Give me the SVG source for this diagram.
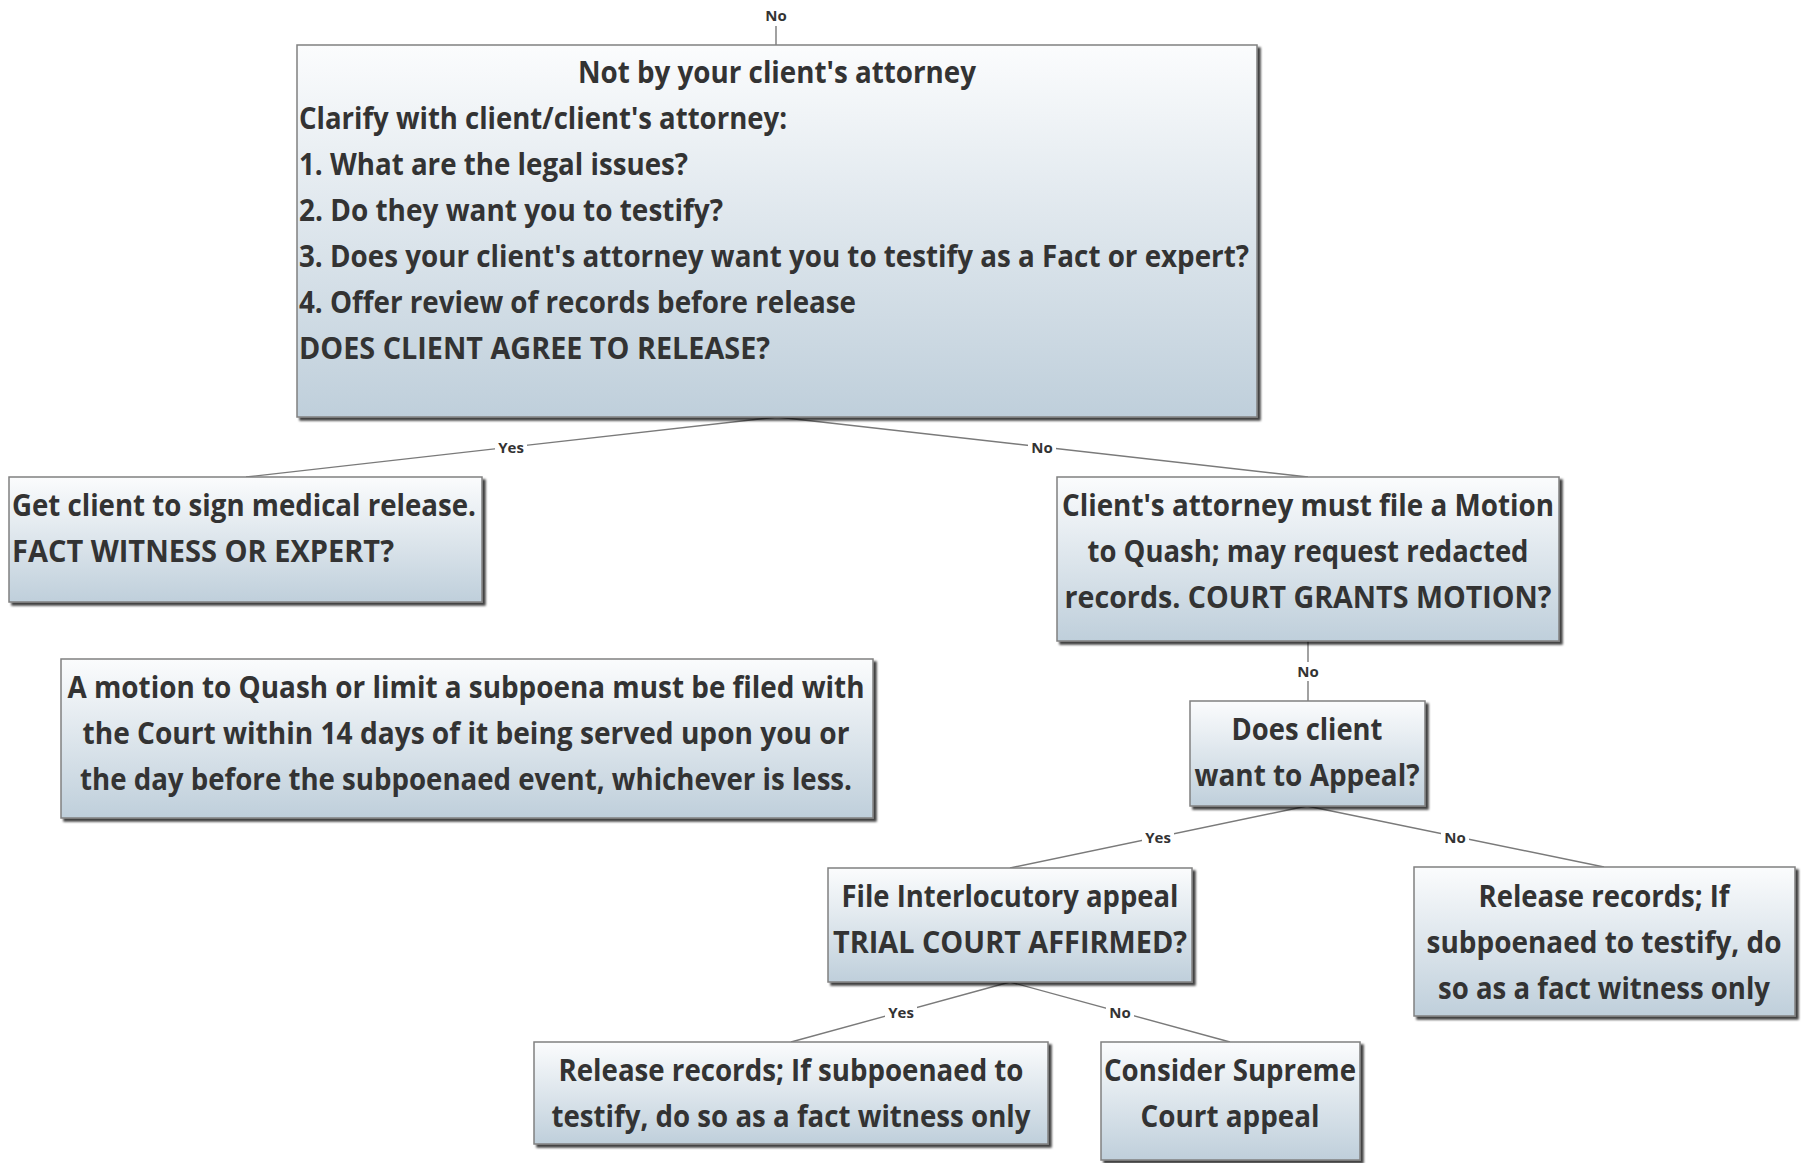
<svg xmlns="http://www.w3.org/2000/svg" width="1806" height="1163" viewBox="0 0 1806 1163">
<defs>
<linearGradient id="g" x1="0" y1="0" x2="0" y2="1">
<stop offset="0" stop-color="#fbfcfd"/>
<stop offset="1" stop-color="#bfcfdb"/>
</linearGradient>
<filter id="sh" x="-5%" y="-5%" width="115%" height="120%">
<feDropShadow dx="3" dy="3" stdDeviation="1.2" flood-color="#000" flood-opacity="0.75"/>
</filter>
<style>
.box{fill:url(#g);stroke:#808080;stroke-width:1.5;filter:url(#sh)}
.t{font-family:"Open Sans","Noto Sans",sans-serif;font-weight:bold;font-size:30.5px;fill:#333}
.c{text-anchor:middle}
.ln{stroke:#7a7a7a;stroke-width:1.4;fill:none}
.lb{font-family:"Open Sans","Noto Sans",sans-serif;font-weight:bold;font-size:15px;fill:#333;text-anchor:middle}
.bg{fill:#fff}
</style>
</defs>
<rect width="1806" height="1163" fill="#fff"/>
<g id="connectors">
<line class="ln" x1="776" y1="26" x2="776" y2="45"/>
<line class="ln" x1="777" y1="417" x2="246" y2="477"/>
<line class="ln" x1="777" y1="417" x2="1308" y2="477"/>
<line class="ln" x1="1308" y1="641" x2="1308" y2="701"/>
<line class="ln" x1="1307" y1="806" x2="1010" y2="868"/>
<line class="ln" x1="1307" y1="806" x2="1604" y2="867"/>
<line class="ln" x1="1010" y1="982" x2="791" y2="1042"/>
<line class="ln" x1="1010" y1="982" x2="1230" y2="1042"/>
<rect class="bg" x="762" y="6" width="28" height="19"/>
<text class="lb" x="776" y="21">No</text>
<rect class="bg" x="495" y="438" width="32" height="19"/>
<text class="lb" x="511" y="453">Yes</text>
<rect class="bg" x="1028" y="438" width="28" height="19"/>
<text class="lb" x="1042" y="453">No</text>
<rect class="bg" x="1294" y="662" width="28" height="19"/>
<text class="lb" x="1308" y="677">No</text>
<rect class="bg" x="1142" y="828" width="32" height="19"/>
<text class="lb" x="1158" y="843">Yes</text>
<rect class="bg" x="1441" y="828" width="28" height="19"/>
<text class="lb" x="1455" y="843">No</text>
<rect class="bg" x="885" y="1003" width="32" height="19"/>
<text class="lb" x="901" y="1018">Yes</text>
<rect class="bg" x="1106" y="1003" width="28" height="19"/>
<text class="lb" x="1120" y="1018">No</text>
</g>
<g id="n1">
<rect class="box" x="297" y="45" width="960" height="372"/>
<text class="t c" x="777" y="83" textLength="398" lengthAdjust="spacingAndGlyphs">Not by your client's attorney</text>
<text class="t" x="299" y="129" textLength="488" lengthAdjust="spacingAndGlyphs">Clarify with client/client's attorney:</text>
<text class="t" x="299" y="175" textLength="389" lengthAdjust="spacingAndGlyphs">1. What are the legal issues?</text>
<text class="t" x="299" y="221" textLength="424" lengthAdjust="spacingAndGlyphs">2. Do they want you to testify?</text>
<text class="t" x="299" y="267" textLength="950" lengthAdjust="spacingAndGlyphs">3. Does your client's attorney want you to testify as a Fact or expert?</text>
<text class="t" x="299" y="313" textLength="557" lengthAdjust="spacingAndGlyphs">4. Offer review of records before release</text>
<text class="t" x="299" y="359" textLength="471" lengthAdjust="spacingAndGlyphs">DOES CLIENT AGREE TO RELEASE?</text>
</g>
<g id="n2">
<rect class="box" x="9" y="477" width="473" height="125"/>
<text class="t" x="12" y="516" textLength="464" lengthAdjust="spacingAndGlyphs">Get client to sign medical release.</text>
<text class="t" x="12" y="562" textLength="382" lengthAdjust="spacingAndGlyphs">FACT WITNESS OR EXPERT?</text>
</g>
<g id="n3">
<rect class="box" x="1057" y="477" width="502" height="164"/>
<text class="t c" x="1308" y="516" textLength="492" lengthAdjust="spacingAndGlyphs">Client's attorney must file a Motion</text>
<text class="t c" x="1308" y="562" textLength="441" lengthAdjust="spacingAndGlyphs">to Quash; may request redacted</text>
<text class="t c" x="1308" y="608" textLength="487" lengthAdjust="spacingAndGlyphs">records. COURT GRANTS MOTION?</text>
</g>
<g id="n4">
<rect class="box" x="1190" y="701" width="235" height="105"/>
<text class="t c" x="1307" y="740" textLength="151" lengthAdjust="spacingAndGlyphs">Does client</text>
<text class="t c" x="1307" y="786" textLength="225" lengthAdjust="spacingAndGlyphs">want to Appeal?</text>
</g>
<g id="n5">
<rect class="box" x="828" y="868" width="364" height="114"/>
<text class="t c" x="1010" y="907" textLength="337" lengthAdjust="spacingAndGlyphs">File Interlocutory appeal</text>
<text class="t c" x="1010" y="953" textLength="354" lengthAdjust="spacingAndGlyphs">TRIAL COURT AFFIRMED?</text>
</g>
<g id="n6">
<rect class="box" x="1414" y="867" width="381" height="149"/>
<text class="t c" x="1604" y="907" textLength="251" lengthAdjust="spacingAndGlyphs">Release records; If</text>
<text class="t c" x="1604" y="953" textLength="355" lengthAdjust="spacingAndGlyphs">subpoenaed to testify, do</text>
<text class="t c" x="1604" y="999" textLength="332" lengthAdjust="spacingAndGlyphs">so as a fact witness only</text>
</g>
<g id="n7">
<rect class="box" x="534" y="1042" width="514" height="102"/>
<text class="t c" x="791" y="1081" textLength="465" lengthAdjust="spacingAndGlyphs">Release records; If subpoenaed to</text>
<text class="t c" x="791" y="1127" textLength="479" lengthAdjust="spacingAndGlyphs">testify, do so as a fact witness only</text>
</g>
<g id="n8">
<rect class="box" x="1101" y="1042" width="259" height="118"/>
<text class="t c" x="1230" y="1081" textLength="252" lengthAdjust="spacingAndGlyphs">Consider Supreme</text>
<text class="t c" x="1230" y="1127" textLength="179" lengthAdjust="spacingAndGlyphs">Court appeal</text>
</g>
<g id="n9">
<rect class="box" x="61" y="659" width="812" height="159"/>
<text class="t c" x="466" y="698" textLength="797" lengthAdjust="spacingAndGlyphs">A motion to Quash or limit a subpoena must be filed with</text>
<text class="t c" x="466" y="744" textLength="767" lengthAdjust="spacingAndGlyphs">the Court within 14 days of it being served upon you or</text>
<text class="t c" x="466" y="790" textLength="772" lengthAdjust="spacingAndGlyphs">the day before the subpoenaed event, whichever is less.</text>
</g>
</svg>
